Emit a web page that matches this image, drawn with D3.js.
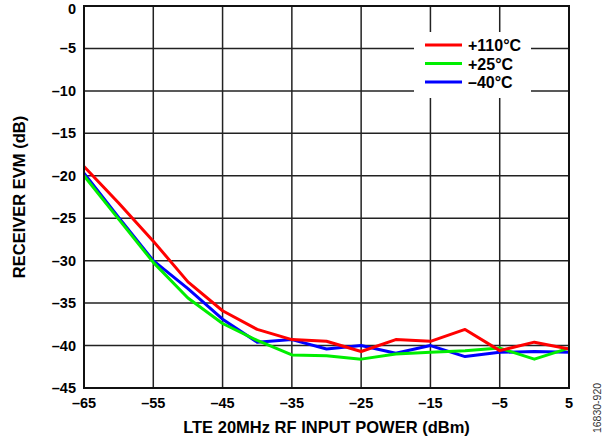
<!DOCTYPE html>
<html>
<head>
<meta charset="utf-8">
<script src="https://cdn.jsdelivr.net/npm/d3@7/dist/d3.min.js"></script>
<style>
  body { margin: 0; background: #fff; }
  svg { display: block; font-family: "Liberation Sans", Arial, sans-serif; }
</style>
</head>
<body>
<svg id="chart" width="615" height="443"></svg>
<script>
// Input power in dBm (x axis)
const inputPower = [-65, -60, -55, -50, -45, -40, -35, -30, -25, -20, -15, -10, -5, 0, 5];

// Receiver EVM in dB for each temperature
const evmHot  = [-18.9, -23.2, -27.7, -32.5, -35.9, -38.1, -39.3, -39.5, -40.7, -39.3, -39.5, -38.1, -40.6, -39.6, -40.4];
const evmRoom = [-20.0, -25.1, -30.2, -34.4, -37.4, -39.4, -41.1, -41.2, -41.6, -41.0, -40.8, -40.6, -40.3, -41.6, -40.3];
const evmCold = [-19.7, -24.9, -30.0, -33.3, -36.9, -39.6, -39.3, -40.4, -40.0, -40.9, -40.0, -41.3, -40.8, -40.7, -40.8];

const seriesNames = ['+110°C', '+25°C', '–40°C'];
const seriesColors = ['#ff0000', '#00ee00', '#0000ff'];

const xTicks = [-65, -55, -45, -35, -25, -15, -5, 5];
const yTicks = [0, -5, -10, -15, -20, -25, -30, -35, -40, -45];

const fmt = v => v < 0 ? '–' + Math.abs(v) : String(v);

const margin = {left: 84, right: 46, top: 6, bottom: 55};
const W = 615, H = 443;
const svg = d3.select('#chart');

const x = d3.scaleLinear().domain([-65, 5]).range([margin.left, W - margin.right]);
const y = d3.scaleLinear().domain([-45, 0]).range([H - margin.bottom, margin.top]);

// grid
const grid = svg.append('g').attr('stroke', '#222').attr('stroke-width', 1.5);
grid.selectAll('.vx').data(xTicks).enter().append('line')
    .attr('x1', d => x(d)).attr('x2', d => x(d))
    .attr('y1', y(0)).attr('y2', y(-45));
grid.selectAll('.hy').data(yTicks).enter().append('line')
    .attr('x1', x(-65)).attr('x2', x(5))
    .attr('y1', d => y(d)).attr('y2', d => y(d));

// legend box covers the grid
const lg = svg.append('g');
lg.append('rect')
    .attr('x', 414).attr('y', 32).attr('width', 117).attr('height', 66)
    .attr('fill', '#fff');

// series lines: blue under green under red
const series = [
    {name: seriesNames[2], color: seriesColors[2], vals: evmCold},
    {name: seriesNames[1], color: seriesColors[1], vals: evmRoom},
    {name: seriesNames[0], color: seriesColors[0], vals: evmHot}
];
const line = d3.line().x(d => x(d[0])).y(d => y(d[1]));
series.forEach(s => {
    svg.append('path')
        .datum(inputPower.map((p, i) => [p, s.vals[i]]))
        .attr('fill', 'none')
        .attr('stroke', s.color)
        .attr('stroke-width', 3)
        .attr('stroke-linejoin', 'round')
        .attr('d', line);
});

// plot frame
svg.append('rect')
    .attr('x', x(-65)).attr('y', y(0))
    .attr('width', x(5) - x(-65)).attr('height', y(-45) - y(0))
    .attr('fill', 'none').attr('stroke', '#111').attr('stroke-width', 2);

// legend entries
seriesNames.forEach((n, i) => {
    const ly = 45 + i * 18.5;
    lg.append('line')
        .attr('x1', 425).attr('x2', 462).attr('y1', ly).attr('y2', ly)
        .attr('stroke', seriesColors[i]).attr('stroke-width', 3);
    lg.append('text')
        .attr('x', 468).attr('y', ly + 6)
        .attr('font-size', 16).attr('font-weight', 'bold')
        .text(n);
});

// tick labels (top one pushed down so it stays inside the page)
svg.append('g').selectAll('text').data(yTicks).enter().append('text')
    .attr('x', x(-65) - 8).attr('y', d => Math.max(y(d) + 5, 14))
    .attr('text-anchor', 'end')
    .attr('font-size', 14.5).attr('font-weight', 'bold')
    .text(fmt);
svg.append('g').selectAll('text').data(xTicks).enter().append('text')
    .attr('x', d => x(d)).attr('y', y(-45) + 20)
    .attr('text-anchor', 'middle')
    .attr('font-size', 14.5).attr('font-weight', 'bold')
    .text(fmt);

// axis titles
svg.append('text')
    .attr('x', (x(-65) + x(5)) / 2).attr('y', 433)
    .attr('text-anchor', 'middle')
    .attr('font-size', 16.5).attr('font-weight', 'bold')
    .text('LTE 20MHz RF INPUT POWER (dBm)');
svg.append('text')
    .attr('transform', `translate(25,${(y(0) + y(-45)) / 2}) rotate(-90)`)
    .attr('text-anchor', 'middle')
    .attr('font-size', 16.5).attr('font-weight', 'bold')
    .text('RECEIVER EVM (dB)');

// figure id
svg.append('text')
    .attr('transform', 'translate(601,408) rotate(-90)')
    .attr('text-anchor', 'middle')
    .attr('font-size', 10.5).attr('fill', '#333')
    .text('16830-920');
</script>
</body>
</html>
